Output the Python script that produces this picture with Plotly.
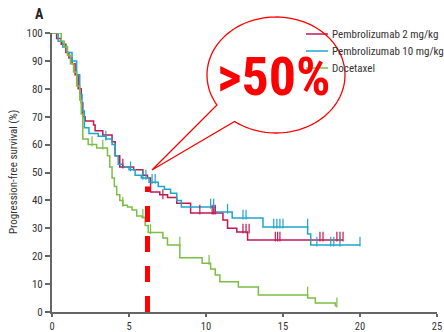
import numpy as np
import plotly.graph_objects as go

# ---- data ----
p2_t = [0, 0.3, 0.6, 0.9, 1.1, 1.3, 1.5, 1.7, 1.9, 2.0, 2.15, 2.7, 2.8, 3.3, 3.9, 4.1, 4.4, 5.3, 5.9, 6.2, 6.4, 7.0, 7.5, 8.1, 9.0, 11.1, 11.4, 12.0, 12.7, 18.9]
p2_s = [100, 98, 96, 93, 91, 89, 85, 80, 75, 70, 68.5, 67, 65, 63.4, 61, 56, 52, 51, 49, 48, 43, 42, 41, 39, 35.5, 33, 30, 28.7, 25.8, 25.8]
p2_ct = [4.6, 7.2, 9.6, 10.4, 10.5, 10.6, 12.4, 12.6, 12.8, 14.5, 14.65, 14.8, 17.4, 17.6, 18.5, 18.7, 18.9]
p2_cs = [52, 41, 35.5, 35.5, 35.5, 35.5, 28.7, 28.7, 28.7, 25.8, 25.8, 25.8, 25.8, 25.8, 25.8, 25.8, 25.8]

p10_t = [0, 0.4, 0.7, 1.0, 1.3, 1.6, 1.8, 1.95, 2.1, 2.4, 3.0, 3.5, 3.9, 4.1, 4.3, 4.6, 5.0, 5.4, 5.8, 6.3, 6.9, 7.3, 7.7, 8.1, 8.4, 10.6, 11.7, 13.7, 16.6, 16.8, 20.0]
p10_s = [100, 97, 95, 93, 90, 85, 78, 72, 66, 64, 63, 62, 60, 56, 53, 52, 51, 49, 48, 46.5, 45, 44, 42.6, 40, 37.6, 35.8, 33.7, 30.5, 28, 24, 24]
p10_ct = [3.5, 5.1, 5.9, 6.1, 6.5, 6.7, 10.3, 10.5, 11.4, 12.4, 12.6, 14.4, 14.6, 14.8, 15.0, 16.6, 17.2, 18.1, 18.3, 18.7, 20.0]
p10_cs = [62, 51, 48, 48, 46.5, 46.5, 37.6, 37.6, 35.8, 33.7, 33.7, 30.5, 30.5, 30.5, 30.5, 30.5, 24, 24, 24, 24, 24]

doc_t = [0, 0.6, 0.8, 1.0, 1.2, 1.4, 1.6, 1.8, 1.9, 2.0, 2.35, 2.9, 3.6, 3.75, 3.9, 4.05, 4.2, 4.4, 4.6, 4.9, 5.2, 5.5, 5.85, 6.05, 6.25, 7.2, 7.5, 8.3, 9.75, 10.3, 10.6, 10.9, 12.1, 13.4, 16.6, 17.1, 18.4, 18.5]
doc_s = [100, 97, 95, 92, 89, 86, 81, 76, 71, 62, 60, 58.8, 56, 52, 48, 45, 42, 40, 38.3, 37.6, 36.6, 34.4, 34, 31, 28.5, 26.5, 24, 19.4, 17.5, 15.4, 13.3, 10.8, 9, 6.1, 5, 3.2, 2.2, 2.2]
doc_ct = [0.3, 0.45, 0.6, 0.75, 0.9, 1.05, 1.2, 1.35, 2.6, 3.3, 4.6, 5.9, 6.4, 8.3, 10.2, 16.6, 18.5]
doc_cs = [100, 100, 100, 100, 100, 100, 100, 100, 60, 58.8, 38.3, 34, 28.5, 24, 17.5, 6.1, 2.2]

names = ["Pembrolizumab 2 mg/kg", "Pembrolizumab 10 mg/kg", "Docetaxel"]
colors = ["#C4174F", "#1CA6CC", "#7BBF45"]

median_t = 6.2      # red dashed marker time
median_top = 45     # top of dashed marker (%)
callout = ">50%"

x_ticks = [0, 5, 10, 15, 20, 25]
y_ticks = list(range(0, 101, 10))

FONT = "Liberation Sans Narrow, Roboto Condensed, Arial Narrow, Liberation Sans, sans-serif"

# ---- figure geometry (pixels) ----
W, H = 444, 332
L, R, T, B = 52, 7, 33, 20
pw, ph = W - L - R, H - T - B


def paper(px, py):
    return (px - L) / pw, (H - B - py) / ph


fig = go.Figure()

series = [(p2_t, p2_s, p2_ct, p2_cs), (p10_t, p10_s, p10_ct, p10_cs), (doc_t, doc_s, doc_ct, doc_cs)]
for (t, s, ct, cs), name, col in zip(series, names, colors):
    fig.add_trace(go.Scatter(x=t, y=s, mode="lines", line=dict(color=col, width=1.5, shape="hv"),
                             name=name, hoverinfo="skip", showlegend=False))
for (t, s, ct, cs), name, col in zip(series, names, colors):
    fig.add_trace(go.Scatter(x=ct, y=[v + 1.2 for v in cs], mode="markers",
                             marker=dict(symbol="line-ns", size=7, line=dict(color=col, width=1.2)),
                             showlegend=False, hoverinfo="skip", cliponaxis=False))

# red dashed vertical marker
fig.add_trace(go.Scatter(x=[median_t, median_t], y=[0, median_top], mode="lines",
                         line=dict(color="#FF0000", width=5, dash="16px,14px"),
                         showlegend=False, hoverinfo="skip"))

# manual legend (paper coords)
for i, (name, col) in enumerate(zip(names, colors)):
    py = 34 + 17 * i
    x0, y0 = paper(306, py)
    x1, _ = paper(328, py)
    fig.add_shape(type="line", xref="paper", yref="paper", x0=x0, x1=x1, y0=y0, y1=y0,
                  line=dict(color=col, width=1.5))
    tx0, _ = paper(330, py)
    fig.add_annotation(x=tx0, y=y0, xref="paper", yref="paper", text=name, showarrow=False,
                       xanchor="left", yanchor="middle",
                       font=dict(family=FONT, size=11, color="#333333"))

# speech bubble (paper coords)
cx, cy, rx, ry = 276, 75, 69, 58
th1 = np.deg2rad(148.8)
th2 = np.deg2rad(126.9 + 360)
ths = np.linspace(th1, th2, 120)
pts = [paper(cx + rx * np.cos(a), cy + ry * np.sin(a)) for a in ths]
tip = paper(152, 170)
path = "M " + " L ".join(f"{x:.4f},{y:.4f}" for x, y in pts)
path += f" L {tip[0]:.4f},{tip[1]:.4f} Z"
fig.add_shape(type="path", path=path, xref="paper", yref="paper",
              line=dict(color="#FF0000", width=1.3), fillcolor="rgba(0,0,0,0)", layer="above")

bx, by = paper(274, 76)
fig.add_annotation(x=bx, y=by, xref="paper", yref="paper", text=f"<b>{callout}</b>", showarrow=False,
                   font=dict(family=FONT, size=54, color="#FF0000"), xanchor="center", yanchor="middle")

ax_, ay_ = paper(39, 14)
fig.add_annotation(x=ax_, y=ay_, xref="paper", yref="paper", text="<b>A</b>", showarrow=False,
                   font=dict(family=FONT, size=14, color="#222222"), xanchor="center", yanchor="middle")

tx, ty = paper(13, 172)
fig.add_annotation(x=tx, y=ty, xref="paper", yref="paper", text="Progression-free survival (%)",
                   showarrow=False, textangle=-90, font=dict(family=FONT, size=11, color="#333333"),
                   xanchor="center", yanchor="middle")

fig.update_layout(
    width=W, height=H, margin=dict(l=L, r=R, t=T, b=B, pad=0, autoexpand=False),
    paper_bgcolor="white", plot_bgcolor="white",
    font=dict(family=FONT, size=11, color="#333333"),
    showlegend=False,
)
fig.update_xaxes(range=[0, 25], tickvals=x_ticks, ticks="outside", ticklen=3, tickwidth=1.5,
                 tickcolor="#666666", showline=True, linecolor="#666666", linewidth=2,
                 showgrid=False, zeroline=False, tickfont=dict(size=10.5, color="#333333"),
                 automargin=False)
fig.update_yaxes(range=[0, 100], tickvals=y_ticks, ticks="outside", ticklen=5, tickwidth=1.5,
                 tickcolor="#666666", showline=True, linecolor="#666666", linewidth=2,
                 showgrid=False, zeroline=False, tickfont=dict(size=11, color="#333333"),
                 automargin=False)

fig.write_html("out.html", config={"displayModeBar": False},
               post_script="document.body.style.margin='0';document.body.style.padding='0';")
